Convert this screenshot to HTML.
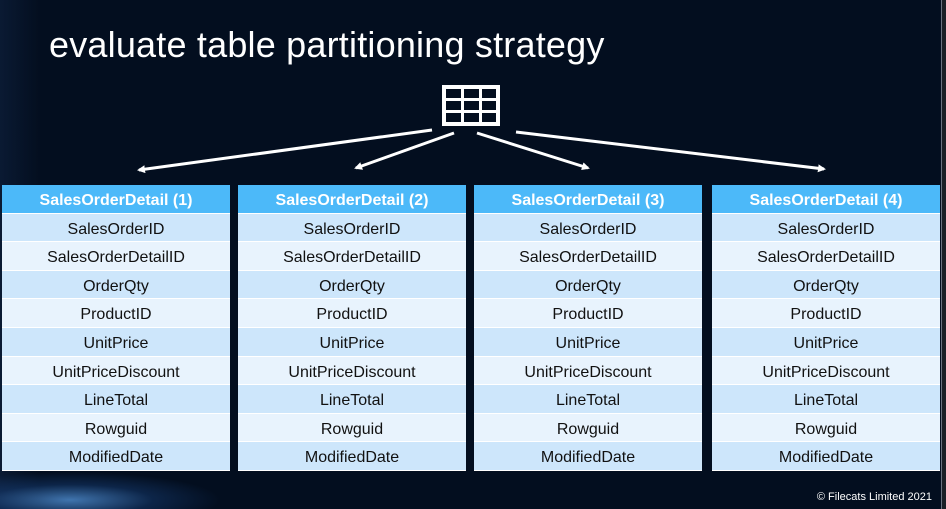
<!DOCTYPE html>
<html><head><meta charset="utf-8"><style>
html,body{margin:0;padding:0;}
body{width:946px;height:509px;overflow:hidden;position:relative;background:#030e1f;font-family:"Liberation Sans",sans-serif;}
.bg{position:absolute;left:0;top:0;width:941px;height:509px;background:
linear-gradient(160deg,rgba(3,14,31,0) 0,rgba(3,14,31,0) 88%,rgba(60,120,200,0.0) 88%),
radial-gradient(ellipse 150px 28px at 70px 500px,rgba(90,160,235,0.7),rgba(30,80,150,0.35) 55%,rgba(3,14,31,0) 100%),
linear-gradient(90deg,#0a1a33 0,#030e1f 40px,#030e1f 100%);}
.edge{position:absolute;left:941px;top:0;width:5px;height:509px;background:#1a1f26;border-left:1px solid #6a7280;}
.title{position:absolute;left:49px;top:24px;color:#fff;font-size:36px;letter-spacing:0.2px;}
.tbl{position:absolute;top:185px;width:228px;}
.r{height:27.6px;line-height:31px;text-align:center;font-size:16px;color:#111;border-bottom:1px solid #fff;overflow:hidden;}
.h{background:#4cb9f9;color:#fff;font-weight:bold;font-size:16px;}
.d{background:#cde6fb;}
.l{background:#e8f3fd;}
.copy{position:absolute;right:14px;top:491px;color:#fff;font-size:11px;}
</style></head><body>
<div class="bg"></div><div class="edge"></div>
<div class="title">evaluate table partitioning strategy</div>
<svg style="position:absolute;left:0;top:0" width="946" height="509">
<defs><marker id="a" markerWidth="8" markerHeight="8" refX="6" refY="4" orient="auto" markerUnits="userSpaceOnUse"><path d="M0,0 L8,4 L0,8 z" fill="#fff"/></marker></defs>
<g stroke="#fff" stroke-width="3" fill="none">
<line x1="432" y1="130" x2="139" y2="170" marker-end="url(#a)"/>
<line x1="454" y1="133" x2="356" y2="168" marker-end="url(#a)"/>
<line x1="477" y1="133" x2="588" y2="168" marker-end="url(#a)"/>
<line x1="516" y1="132" x2="824" y2="169" marker-end="url(#a)"/>
</g>
<rect x="442" y="85" width="58" height="41" fill="#fff"/>
<g fill="#030e1f">
<rect x="446" y="89" width="15" height="9"/><rect x="464" y="89" width="15" height="9"/><rect x="482" y="89" width="14" height="9"/>
<rect x="446" y="101" width="15" height="9"/><rect x="464" y="101" width="15" height="9"/><rect x="482" y="101" width="14" height="9"/>
<rect x="446" y="113" width="15" height="9"/><rect x="464" y="113" width="15" height="9"/><rect x="482" y="113" width="14" height="9"/>
</g>
</svg>
<div class="tbl" style="left:2px">
<div class="r h">SalesOrderDetail (1)</div><div class="r d">SalesOrderID</div><div class="r l">SalesOrderDetailID</div><div class="r d">OrderQty</div><div class="r l">ProductID</div><div class="r d">UnitPrice</div><div class="r l">UnitPriceDiscount</div><div class="r d">LineTotal</div><div class="r l">Rowguid</div><div class="r d">ModifiedDate</div></div>
<div class="tbl" style="left:238px">
<div class="r h">SalesOrderDetail (2)</div><div class="r d">SalesOrderID</div><div class="r l">SalesOrderDetailID</div><div class="r d">OrderQty</div><div class="r l">ProductID</div><div class="r d">UnitPrice</div><div class="r l">UnitPriceDiscount</div><div class="r d">LineTotal</div><div class="r l">Rowguid</div><div class="r d">ModifiedDate</div></div>
<div class="tbl" style="left:474px">
<div class="r h">SalesOrderDetail (3)</div><div class="r d">SalesOrderID</div><div class="r l">SalesOrderDetailID</div><div class="r d">OrderQty</div><div class="r l">ProductID</div><div class="r d">UnitPrice</div><div class="r l">UnitPriceDiscount</div><div class="r d">LineTotal</div><div class="r l">Rowguid</div><div class="r d">ModifiedDate</div></div>
<div class="tbl" style="left:712px">
<div class="r h">SalesOrderDetail (4)</div><div class="r d">SalesOrderID</div><div class="r l">SalesOrderDetailID</div><div class="r d">OrderQty</div><div class="r l">ProductID</div><div class="r d">UnitPrice</div><div class="r l">UnitPriceDiscount</div><div class="r d">LineTotal</div><div class="r l">Rowguid</div><div class="r d">ModifiedDate</div></div>
<div class="copy">© Filecats Limited 2021</div>
</body></html>
